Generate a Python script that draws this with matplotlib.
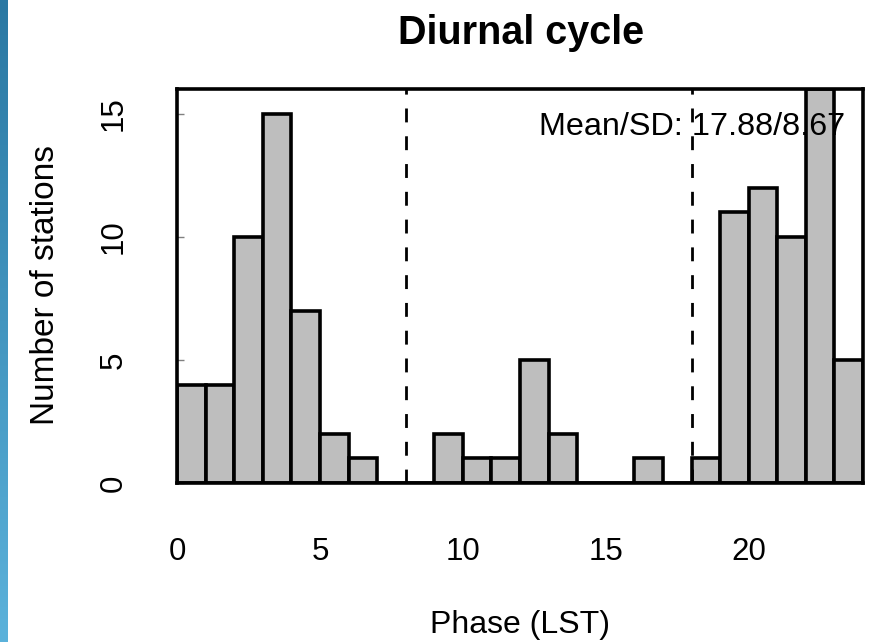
import numpy as np
import matplotlib
matplotlib.use("Agg")
import matplotlib.pyplot as plt
from matplotlib.colors import LinearSegmentedColormap

# ---- data ----
bin_edges = list(range(0, 25))
counts = [4, 4, 10, 15, 7, 2, 1, 0, 0, 2, 1, 1, 5, 2, 0, 0, 1, 0, 1, 11, 12, 10, 16, 5]
ref_lines = [8, 18]
x_ticks = [0, 5, 10, 15, 20]
y_ticks = [0, 5, 10, 15]
title = "Diurnal cycle"
xlabel = "Phase (LST)"
ylabel = "Number of stations"
stat_text = "Mean/SD: 17.88/8.67"

plt.rcParams['font.family'] = ['Liberation Sans', 'DejaVu Sans']

W, H = 871, 642
fig = plt.figure(figsize=(W / 100, H / 100), dpi=100)
fig.patch.set_facecolor('white')

# left blue strip
sax = fig.add_axes([0, 0, 7 / W, 1])
grad = np.linspace(0, 1, 256).reshape(-1, 1)
cmap = LinearSegmentedColormap.from_list('strip', ['#2a78a3', '#5bb2db'])
sax.imshow(grad, aspect='auto', cmap=cmap, extent=[0, 1, 0, 1], origin='upper')
sax.set_axis_off()

left, right, top, bottom = 177, 863, 89, 483
ax = fig.add_axes([left / W, (H - bottom) / H, (right - left) / W, (bottom - top) / H])

lefts = bin_edges[:-1]
widths = np.diff(bin_edges)
ax.bar(lefts, counts, width=widths, align='edge', color='#bebebe',
       edgecolor='black', linewidth=2.6, zorder=2)

for xv in ref_lines:
    ax.axvline(xv, color='black', linewidth=2.0, dashes=(5, 5), zorder=3)

ax.set_xlim(0, 24)
ax.set_ylim(0, 16)

ax.set_xticks(x_ticks)
ax.set_xticklabels([str(v) for v in x_ticks], fontsize=22.5)
ax.tick_params(axis='x', length=0, pad=39)

ax.set_yticks(y_ticks)
ax.set_yticklabels([str(v) for v in y_ticks], fontsize=22.5, rotation=90, va='center')
ax.tick_params(axis='y', direction='in', length=5, width=1, color='#808080', pad=35)

for sp in ax.spines.values():
    sp.set_linewidth(2.6)
    sp.set_color('black')
    sp.set_zorder(5)

ax.text(23.37, 14.45, stat_text, ha='right', va='center', fontsize=23.3, zorder=4)

fig.text(521 / W, (H - 33) / H, title, ha='center', va='center', fontsize=28.5, fontweight='bold')
fig.text(520 / W, (H - 625) / H, xlabel, ha='center', va='center', fontsize=23)
fig.text(45 / W, (H - 285) / H, ylabel, ha='center', va='center', fontsize=24, rotation=90)

fig.savefig('out.png', dpi=100, facecolor='white')
